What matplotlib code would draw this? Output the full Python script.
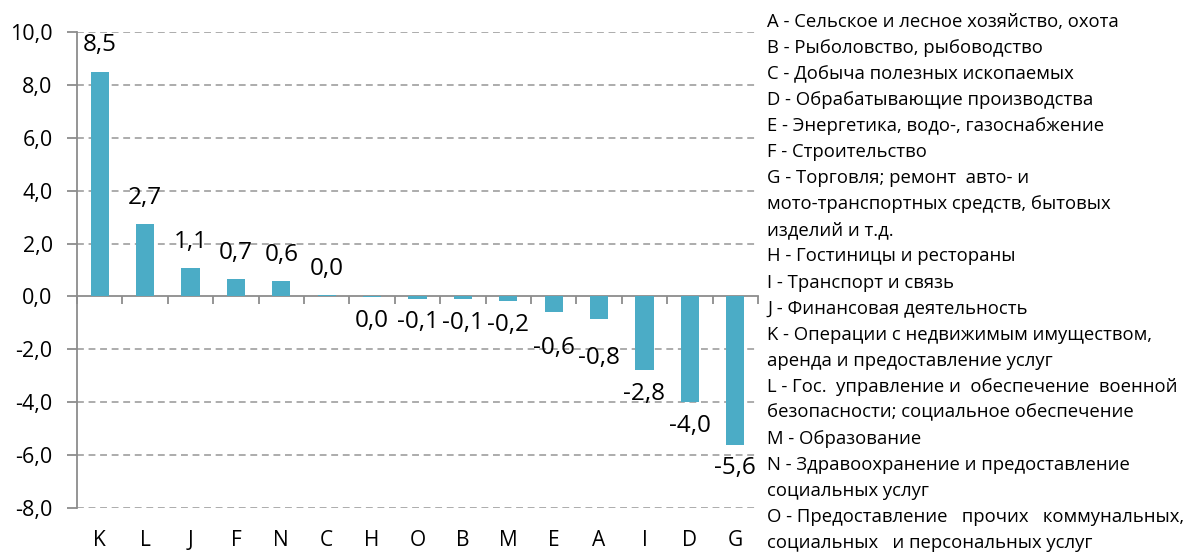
import matplotlib
matplotlib.use("Agg")
import matplotlib.pyplot as plt
from matplotlib.transforms import blended_transform_factory

plt.rcParams['font.family'] = ['Open Sans', 'DejaVu Sans']

categories = ['K', 'L', 'J', 'F', 'N', 'C', 'H', 'O', 'B', 'M', 'E', 'A', 'I', 'D', 'G']
values = [8.5, 2.73, 1.06, 0.66, 0.57, 0.04, -0.02, -0.09, -0.1, -0.18, -0.58, -0.84, -2.8, -4.0, -5.6]
y_ticks = [-8, -6, -4, -2, 0, 2, 4, 6, 8, 10]

legend_lines = [
    "A - Сельское и лесное хозяйство, охота",
    "B - Рыболовство, рыбоводство",
    "C - Добыча полезных ископаемых",
    "D - Обрабатывающие производства",
    "E - Энергетика, водо-, газоснабжение",
    "F - Строительство",
    "G - Торговля; ремонт  авто- и",
    "мото-транспортных средств, бытовых",
    "изделий и т.д.",
    "H - Гостиницы и рестораны",
    "I - Транспорт и связь",
    "J - Финансовая деятельность",
    "K - Операции с недвижимым имуществом,",
    "аренда и предоставление услуг",
    "L - Гос.  управление и  обеспечение  военной",
    "безопасности; социальное обеспечение",
    "M - Образование",
    "N - Здравоохранение и предоставление",
    "социальных услуг",
    "O - Предоставление   прочих   коммунальных,",
    "социальных   и персональных услуг",
]

# label nudges in points (style only)
label_extra = {'E': 9, 'A': 11}

bar_color = '#4BACC6'
axis_color = '#8C8C8C'
grid_color = '#A6A6A6'

fig = plt.figure(figsize=(11.86, 5.52), dpi=100)
ax = fig.add_axes([77 / 1186, 44 / 552, (758 - 77) / 1186, (508 - 32) / 552])

x = list(range(len(categories)))
ax.bar(x, values, width=0.4, color=bar_color, zorder=3)

ax.set_xlim(-0.5, len(categories) - 0.5)
ax.set_ylim(-8, 10)
ax.set_yticks(y_ticks)
ax.set_yticklabels([f"{t:.1f}".replace('.', ',') for t in y_ticks], fontsize=15.5)
for t in y_ticks:
    if t != 0:
        ax.axhline(t, color=grid_color, lw=1.3, ls=(0, (3.8, 2.6)), zorder=1)

for s in ['top', 'right']:
    ax.spines[s].set_visible(False)
ax.spines['left'].set_color(axis_color)
ax.spines['left'].set_linewidth(1.3)
ax.spines['bottom'].set_position(('data', 0))
ax.spines['bottom'].set_color(axis_color)
ax.spines['bottom'].set_linewidth(1.3)
ax.tick_params(axis='y', length=7, width=1.3, color=axis_color, pad=10.5)

# x ticks at category boundaries
ax.set_xticks([i - 0.5 for i in range(len(categories) + 1)])
ax.set_xticklabels([])
ax.tick_params(axis='x', length=6, width=1.3, color=axis_color, direction='out')

trans = blended_transform_factory(ax.transData, ax.transAxes)
for i, c in enumerate(categories):
    ax.text(i, -0.068, c, transform=trans, ha='center', va='center', fontsize=15)

for i, (c, v) in enumerate(zip(categories, values)):
    lab = f"{v:.1f}".replace('.', ',')
    if lab == '-0,0':
        lab = '0,0'
    if v >= 0:
        dy = 19
    else:
        dy = -(17 + label_extra.get(c, 0))
    ax.annotate(lab, (i, v), xytext=(0, dy), textcoords='offset points',
                ha='center', va='center', fontsize=17.5)

y0 = 1 - 22 / 552
step = 26.05 / 552
for k, line in enumerate(legend_lines):
    fig.text(767 / 1186, y0 - k * step, line, ha='left', va='center', fontsize=13.3)

fig.savefig('out.png', dpi=100)
